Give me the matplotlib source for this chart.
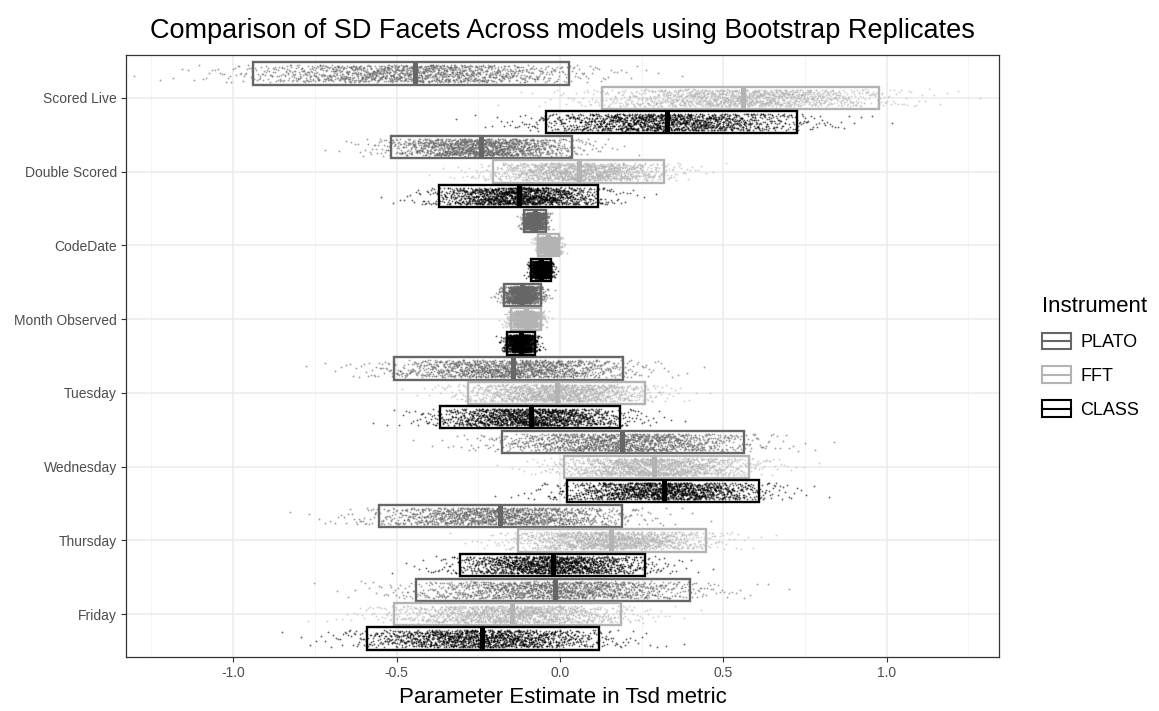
import numpy as np
import matplotlib
matplotlib.use("Agg")
import matplotlib.pyplot as plt
from matplotlib.patches import Rectangle
from matplotlib.lines import Line2D
from matplotlib.legend_handler import HandlerBase
from statistics import NormalDist

plt.rcParams['font.family'] = ['Liberation Sans', 'DejaVu Sans']

facets = ['Scored Live', 'Double Scored', 'CodeDate', 'Month Observed',
          'Tuesday', 'Wednesday', 'Thursday', 'Friday']
instruments = ['PLATO', 'FFT', 'CLASS']

# 2.5% / median / 97.5% of the bootstrap replicates, one value per facet
plato_lo = [-0.938, -0.517, -0.109, -0.170, -0.508, -0.178, -0.553, -0.439]
plato_med = [-0.443, -0.242, -0.077, -0.115, -0.143, 0.190, -0.182, -0.015]
plato_hi = [0.028, 0.036, -0.044, -0.058, 0.194, 0.564, 0.189, 0.398]

fft_lo = [0.128, -0.206, -0.066, -0.151, -0.281, 0.012, -0.128, -0.507]
fft_med = [0.559, 0.059, -0.035, -0.105, -0.008, 0.289, 0.155, -0.148]
fft_hi = [0.977, 0.318, -0.003, -0.059, 0.261, 0.579, 0.447, 0.186]

class_lo = [-0.044, -0.369, -0.087, -0.163, -0.367, 0.021, -0.306, -0.590]
class_med = [0.328, -0.125, -0.058, -0.120, -0.087, 0.319, -0.022, -0.237]
class_hi = [0.725, 0.117, -0.028, -0.077, 0.184, 0.610, 0.260, 0.119]

n_boot = 1500

summaries = {
    'PLATO': (plato_lo, plato_med, plato_hi),
    'FFT': (fft_lo, fft_med, fft_hi),
    'CLASS': (class_lo, class_med, class_hi),
}
colours = {'PLATO': '#666666', 'FFT': '#b3b3b3', 'CLASS': '#000000'}
offsets = {'PLATO': -0.33, 'FFT': 0.0, 'CLASS': 0.33}
box_h = 0.30
jit = 0.115

_nd = NormalDist()
_z = np.array([_nd.inv_cdf((k + 0.5) / n_boot) for k in range(n_boot)])


def replicates(lo, med, hi):
    # split-normal spread whose 2.5/97.5 percentiles sit on lo/hi
    sl = (med - lo) / 1.96
    sr = (hi - med) / 1.96
    return np.where(_z < 0, med + _z * sl, med + _z * sr)


fig = plt.figure(figsize=(11.59, 7.11), dpi=100)
ax = fig.add_axes([126 / 1159, 1 - 657 / 711, (999 - 126) / 1159, (657 - 55) / 711])

rng = np.random.default_rng(7)  # vertical jitter only

for inst in instruments:
    lo_v, med_v, hi_v = summaries[inst]
    col = colours[inst]
    for i in range(len(facets)):
        yc = i + offsets[inst]
        xs = replicates(lo_v[i], med_v[i], hi_v[i])
        ys = yc + rng.uniform(-jit, jit, n_boot)
        ax.scatter(xs, ys, s=1.8, color=col, alpha=0.6, linewidths=0, zorder=2)
        ax.add_patch(Rectangle((lo_v[i], yc - box_h / 2), hi_v[i] - lo_v[i], box_h,
                               fill=False, ec=col, lw=1.7, zorder=3))
        ax.plot([med_v[i], med_v[i]], [yc - box_h / 2, yc + box_h / 2], color=col,
                lw=3.6, solid_capstyle='butt', zorder=3)

ax.set_xlim(-1.328, 1.344)
ax.set_ylim(len(facets) - 1 + 0.58, -0.58)

ax.set_xticks([-1.0, -0.5, 0.0, 0.5, 1.0])
ax.set_xticklabels(['-1.0', '-0.5', '0.0', '0.5', '1.0'])
ax.set_xticks([-1.25, -0.75, -0.25, 0.25, 0.75, 1.25], minor=True)
ax.set_yticks(range(len(facets)))
ax.set_yticklabels(facets)
ax.grid(which='major', color='#ebebeb', lw=1.1, zorder=0)
ax.grid(which='minor', axis='x', color='#f2f2f2', lw=0.6, zorder=0)
ax.set_axisbelow(True)
ax.tick_params(which='major', length=3.5, width=0.8, color='#333333',
               labelsize=10, labelcolor='#4d4d4d', pad=3)
ax.tick_params(which='minor', length=0)
for sp in ax.spines.values():
    sp.set_color('#333333')
    sp.set_linewidth(0.9)

ax.set_xlabel('Parameter Estimate in Tsd metric', fontsize=16, labelpad=5)
ax.set_title('Comparison of SD Facets Across models using Bootstrap Replicates',
             fontsize=19.5, pad=12)


class CrossbarHandler(HandlerBase):
    def create_artists(self, legend, orig_handle, xdescent, ydescent,
                       width, height, fontsize, trans):
        col = orig_handle.get_color()
        rect = Rectangle((-xdescent, -ydescent), width, height, fill=False,
                         ec=col, lw=1.5, transform=trans)
        mid = Line2D([-xdescent, -xdescent + width],
                     [-ydescent + height / 2] * 2, color=col, lw=1.5,
                     transform=trans)
        return [rect, mid]


handles = [Line2D([], [], color=colours[k]) for k in instruments]
leg = fig.legend(handles, instruments, loc='upper left',
                 bbox_to_anchor=(1026 / 1159, 1 - 280 / 711), frameon=False,
                 title='Instrument', fontsize=13, title_fontsize=16,
                 handlelength=1.6, handleheight=1.05, labelspacing=0.85,
                 handletextpad=0.5, handler_map={Line2D: CrossbarHandler()})
leg._legend_box.align = 'left'

fig.savefig('out.png', dpi=100)
